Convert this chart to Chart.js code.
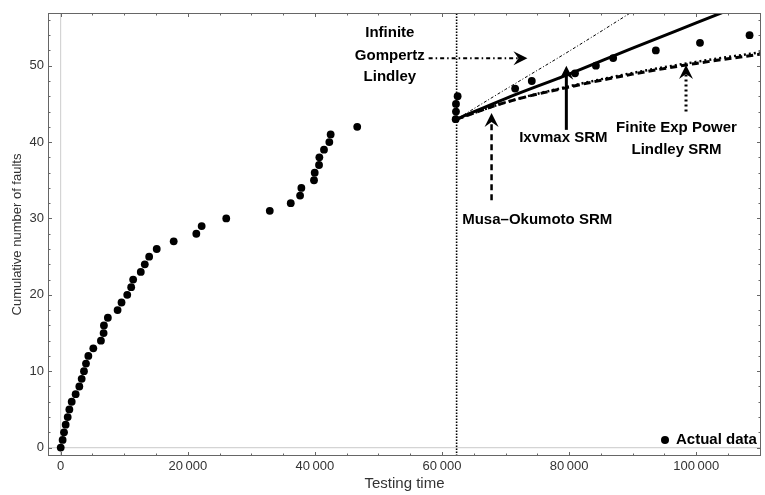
<!DOCTYPE html>
<html>
<head>
<meta charset="utf-8">
<script src="https://cdn.jsdelivr.net/npm/chart.js@4.4.1/dist/chart.umd.min.js"></script>
<style>
  html, body { margin: 0; padding: 0; background: #fff; }
</style>
</head>
<body>
<canvas id="myChart" width="765" height="495"></canvas>
<script>
// observed faults: testing time and cumulative count
const testTimes = [0, 300, 520, 780, 1100, 1360, 1730, 2350, 2930, 3300,
    3660, 3980, 4350, 5130, 6330, 6750, 6800, 7420, 8950, 9570,
    10470, 11090, 11400, 12600, 13230, 13920, 15110, 17780, 21340, 22180,
    26050, 32900, 36200, 37670, 37870, 39860, 39970, 40650, 40700, 41430,
    42270, 42480, 46660, 62150, 62200, 62200, 62460,
    71510, 74130, 80930, 84220, 86940, 93650, 100600, 108400];
const faultCounts = [0, 1, 2, 3, 4, 5, 6, 7, 8, 9,
    10, 11, 12, 13, 14, 15, 16, 17, 18, 19,
    20, 21, 22, 23, 24, 25, 26, 27, 28, 29,
    30, 31, 32, 33, 34, 35, 36, 37, 38, 39,
    40, 41, 42, 43, 44, 45, 46,
    47, 48, 49, 50, 51, 52, 53, 54];

// predictions of the models after the end of the fitting period
const fitEnd = 62300;
const modelTimes = [62300, 70000, 80000, 90000, 100000, 110000];
const ixvmax = [43, 45.7, 48.9, 52.3, 55.6, 58.9];
const musaOkumoto = [43, 45.2, 47.2, 48.9, 50.3, 51.5];
const finiteExpPower = [43, 45.2, 47.3, 49.05, 50.5, 51.75];
const infiniteGompertz = [43, 46.9, 51.9, 57.1, 62.4, 67.8];

const xTicks = [0, 20000, 40000, 60000, 80000, 100000];
const xTickLabels = ['0', '20\u2009000', '40\u2009000', '60\u2009000', '80\u2009000', '100\u2009000'];
const yTicks = [0, 10, 20, 30, 40, 50];

const LABEL_FONT = '"Liberation Sans", Arial, sans-serif';

// callouts: text is placed in data units
const callouts = [
    { text: 'Infinite', t: 51790, n: 54.3 },
    { text: 'Gompertz', t: 51790, n: 51.3 },
    { text: 'Lindley', t: 51790, n: 48.5 },
    { text: 'Musa\u2013Okumoto SRM', t: 74985, n: 29.8 },
    { text: 'Ixvmax SRM', t: 79100, n: 40.6 },
    { text: 'Finite Exp Power', t: 96900, n: 41.9 },
    { text: 'Lindley SRM', t: 96900, n: 39.0 }
];
const arrows = [
    { from: [57900, 50.97], to: [73450, 50.97], width: 2, dash: [4, 3, 1.5, 3] },
    { from: [67800, 32.4], to: [67800, 43.8], width: 2.5, dash: [6, 4] },
    { from: [79570, 41.6], to: [79570, 50.0], width: 3, dash: [] },
    { from: [98400, 44.0], to: [98400, 50.1], width: 3, dash: [2, 3] }
];

function xy(xs, ys) {
    return xs.map((x, i) => ({ x: x, y: ys[i] }));
}

function arrowHead(ctx, x, y, angle) {
    ctx.save();
    ctx.translate(x, y);
    ctx.rotate(angle);
    ctx.beginPath();
    ctx.moveTo(0, 0);
    ctx.lineTo(-14, -7);
    ctx.lineTo(-9, 0);
    ctx.lineTo(-14, 7);
    ctx.closePath();
    ctx.fill();
    ctx.restore();
}

// frame with inward ticks on all four sides
const framePlugin = {
    id: 'frame',
    afterDatasetsDraw(chart) {
        const { ctx, chartArea: a, scales: { x, y } } = chart;
        ctx.save();
        ctx.strokeStyle = '#666';
        ctx.lineWidth = 1;
        ctx.strokeRect(a.left + 0.5, a.top + 0.5, a.right - a.left - 1, a.bottom - a.top - 1);
        ctx.beginPath();
        for (let v = 0; v <= x.max; v += 5000) {
            const px = Math.round(x.getPixelForValue(v)) + 0.5;
            const len = v % 20000 === 0 ? 4 : 2.5;
            ctx.moveTo(px, a.bottom); ctx.lineTo(px, a.bottom - len);
            ctx.moveTo(px, a.top); ctx.lineTo(px, a.top + len);
        }
        for (let v = 0; v <= y.max; v += 2) {
            const py = Math.round(y.getPixelForValue(v)) + 0.5;
            const len = v % 10 === 0 ? 4 : 2.5;
            ctx.moveTo(a.left, py); ctx.lineTo(a.left + len, py);
            ctx.moveTo(a.right, py); ctx.lineTo(a.right - len, py);
        }
        ctx.stroke();
        ctx.restore();
    }
};

const calloutPlugin = {
    id: 'callouts',
    afterDraw(chart) {
        const { ctx, chartArea: a, scales: { x, y } } = chart;
        ctx.save();
        ctx.fillStyle = '#000';
        ctx.strokeStyle = '#000';
        arrows.forEach(ar => {
            const x0 = x.getPixelForValue(ar.from[0]), y0 = y.getPixelForValue(ar.from[1]);
            const x1 = x.getPixelForValue(ar.to[0]), y1 = y.getPixelForValue(ar.to[1]);
            const ang = Math.atan2(y1 - y0, x1 - x0);
            ctx.lineWidth = ar.width;
            ctx.setLineDash(ar.dash);
            ctx.beginPath();
            ctx.moveTo(x0, y0);
            ctx.lineTo(x1 - 9 * Math.cos(ang), y1 - 9 * Math.sin(ang));
            ctx.stroke();
            ctx.setLineDash([]);
            arrowHead(ctx, x1, y1, ang);
        });
        ctx.font = 'bold 15px ' + LABEL_FONT;
        ctx.textAlign = 'center';
        ctx.textBaseline = 'middle';
        callouts.forEach(c => {
            ctx.fillText(c.text, x.getPixelForValue(c.t), y.getPixelForValue(c.n));
        });
        // legend
        ctx.beginPath();
        ctx.arc(a.right - 96, a.bottom - 16, 4, 0, Math.PI * 2);
        ctx.fill();
        ctx.textAlign = 'left';
        ctx.fillText('Actual data', a.right - 85, a.bottom - 16);
        ctx.restore();
    }
};

const zeroGrid = c => (c.tick && c.tick.value === 0 ? '#d4d4d4' : 'rgba(0,0,0,0)');

const ctx = document.getElementById('myChart').getContext('2d');
const myChart = new Chart(ctx, {
    type: 'scatter',
    data: {
        datasets: [
            {
                label: 'Actual data',
                data: xy(testTimes, faultCounts),
                pointRadius: 3.9,
                pointBackgroundColor: '#000',
                pointBorderWidth: 0
            },
            {
                label: 'Ixvmax SRM',
                data: xy(modelTimes, ixvmax),
                showLine: true,
                borderColor: '#000',
                borderWidth: 3,
                pointRadius: 0,
                cubicInterpolationMode: 'monotone'
            },
            {
                label: 'Musa-Okumoto SRM',
                data: xy(modelTimes, musaOkumoto),
                showLine: true,
                borderColor: '#000',
                borderWidth: 3,
                borderDash: [7, 4],
                pointRadius: 0,
                cubicInterpolationMode: 'monotone'
            },
            {
                label: 'Finite Exp Power Lindley SRM',
                data: xy(modelTimes, finiteExpPower),
                showLine: true,
                borderColor: '#000',
                borderWidth: 2.5,
                borderDash: [2, 3],
                pointRadius: 0,
                cubicInterpolationMode: 'monotone'
            },
            {
                label: 'Infinite Gompertz Lindley',
                data: xy(modelTimes, infiniteGompertz),
                showLine: true,
                borderColor: '#000',
                borderWidth: 1,
                borderDash: [3, 2, 1, 2],
                pointRadius: 0,
                cubicInterpolationMode: 'monotone'
            },
            {
                label: 'end of fit',
                data: [{ x: fitEnd, y: -1.1 }, { x: fitEnd, y: 56.9 }],
                showLine: true,
                borderColor: '#000',
                borderWidth: 1.6,
                borderDash: [1.5, 1.5],
                pointRadius: 0
            }
        ]
    },
    options: {
        responsive: false,
        animation: false,
        layout: { padding: { top: 13, right: 2, left: 0, bottom: 0 } },
        plugins: {
            legend: { display: false },
            tooltip: { enabled: false }
        },
        scales: {
            x: {
                type: 'linear',
                min: -2000,
                max: 110200,
                afterBuildTicks: s => { s.ticks = xTicks.map(v => ({ value: v })); },
                afterFit: s => { s.height = 39; },
                grid: { color: zeroGrid, drawTicks: false, lineWidth: 1.2 },
                border: { display: false },
                ticks: {
                    padding: 3,
                    color: '#333',
                    font: { family: LABEL_FONT, size: 13 },
                    callback: v => xTickLabels[xTicks.indexOf(v)]
                },
                title: {
                    display: true,
                    text: 'Testing time',
                    color: '#333',
                    font: { family: LABEL_FONT, size: 15 },
                    padding: { bottom: 2, top: 0 }
                }
            },
            y: {
                type: 'linear',
                min: -1.1,
                max: 56.9,
                afterBuildTicks: s => { s.ticks = yTicks.map(v => ({ value: v })); },
                afterFit: s => { s.width = 48; },
                grid: { color: zeroGrid, drawTicks: false, lineWidth: 1.2 },
                border: { display: false },
                ticks: {
                    padding: 4,
                    color: '#333',
                    font: { family: LABEL_FONT, size: 13 }
                },
                title: {
                    display: true,
                    text: 'Cumulative number of faults',
                    color: '#333',
                    font: { family: LABEL_FONT, size: 13 },
                    padding: { top: 10, bottom: 0 }
                }
            }
        }
    },
    plugins: [framePlugin, calloutPlugin]
});
</script>
</body>
</html>
